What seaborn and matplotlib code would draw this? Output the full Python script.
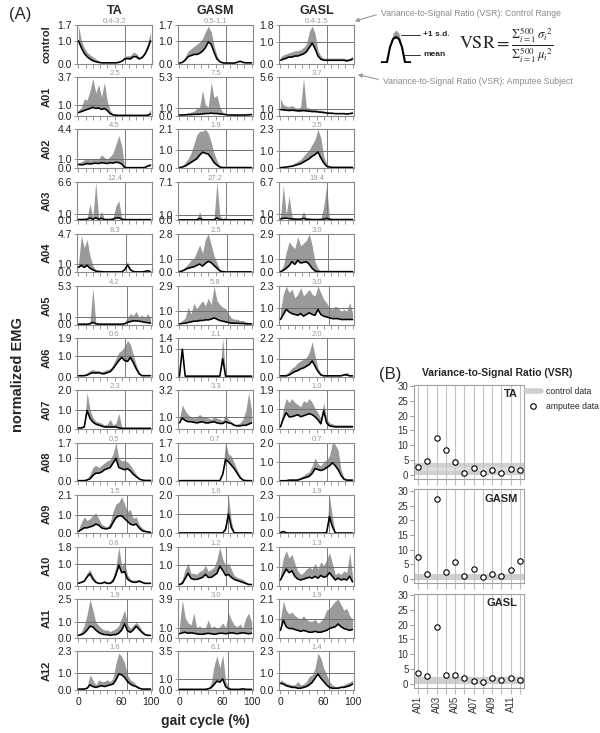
import numpy as np
import matplotlib
matplotlib.use('Agg')
import matplotlib.pyplot as plt
from matplotlib.lines import Line2D
import seaborn as sns

sns.set_style('white')
plt.rcParams['font.family'] = ['Liberation Sans', 'DejaVu Sans']
plt.rcParams['mathtext.fontset'] = 'stix'

# ---------------- data ----------------
subjects = ['control', 'A01', 'A02', 'A03', 'A04', 'A05', 'A06', 'A07', 'A08', 'A09', 'A10', 'A11', 'A12']
muscles = ['TA', 'GASM', 'GASL']
gait = np.arange(0, 101, 4)  # gait cycle (%) sample positions

TA_mean = [
    [1.0,0.7,0.45,0.3,0.2, 0.12,0.08,0.05,0.03,0.03, 0.03,0.03,0.03,0.03,0.05, 0.1,0.2,0.22,0.2,0.3, 0.3,0.2,0.25,0.4,0.65, 1.0],
    [0.3,0.4,0.5,0.6,0.7, 0.8,0.7,0.75,0.6,0.7, 0.5,0.2,0.08,0.05,0.03, 0.03,0.03,0.03,0.03,0.03, 0.03,0.03,0.03,0.03,0.05, 0.15],
    [0.4,0.35,0.4,0.5,0.45, 0.5,0.55,0.5,0.6,0.55, 0.5,0.6,0.55,0.65,0.6, 0.45,0.05,0.03,0.03,0.03, 0.03,0.03,0.03,0.05,0.2, 0.3],
    [0.1,0.1,0.1,0.15,0.35, 0.15,0.4,0.15,0.3,0.1, 0.1,0.1,0.15,0.35,0.4, 0.15,0.1,0.08,0.08,0.08, 0.08,0.08,0.08,0.08,0.08, 0.08],
    [0.6,0.85,0.6,0.85,0.5, 0.3,0.15,0.1,0.08,0.05, 0.05,0.05,0.05,0.05,0.05, 0.05,0.3,0.9,0.3,0.1, 0.05,0.05,0.05,0.1,0.2, 0.05],
    [0.05,0.05,0.05,0.05,0.1, 0.3,0.1,0.05,0.05,0.05, 0.05,0.05,0.05,0.05,0.05, 0.05,0.1,0.3,0.4,0.5, 0.5,0.45,0.4,0.3,0.25, 0.2],
    [0.05,0.05,0.05,0.08,0.15, 0.2,0.18,0.2,0.15,0.15, 0.2,0.25,0.4,0.6,0.8, 0.95,0.8,0.75,0.95,0.7, 0.4,0.15,0.05,0.05,0.05, 0.05],
    [0.05,0.05,0.1,0.95,0.55, 0.35,0.25,0.2,0.15,0.1, 0.1,0.1,0.1,0.1,0.05, 0.03,0.03,0.03,0.03,0.03, 0.03,0.03,0.03,0.03,0.03, 0.03],
    [0.02,0.02,0.02,0.05,0.1, 0.25,0.35,0.35,0.4,0.5, 0.55,0.6,0.8,1.0,0.6, 0.55,0.5,0.55,0.45,0.3, 0.2,0.1,0.05,0.03,0.03, 0.03],
    [0.1,0.2,0.3,0.3,0.35, 0.4,0.5,0.45,0.3,0.25, 0.25,0.3,0.6,0.85,0.95, 0.95,0.8,0.65,0.5,0.45, 0.5,0.3,0.15,0.1,0.08, 0.05],
    [0.1,0.15,0.2,0.4,0.55, 0.3,0.15,0.1,0.1,0.15, 0.1,0.1,0.2,0.5,0.95, 0.6,0.65,0.3,0.2,0.15, 0.15,0.2,0.15,0.1,0.1, 0.1],
    [0.15,0.2,0.3,0.5,0.75, 0.7,0.5,0.35,0.25,0.2, 0.2,0.15,0.2,0.2,0.3, 0.5,0.9,0.45,0.35,0.5, 0.75,0.55,0.35,0.2,0.15, 0.15],
    [0.05,0.05,0.05,0.1,0.3, 0.2,0.15,0.2,0.25,0.2, 0.25,0.3,0.35,0.6,0.95, 0.9,0.75,0.5,0.35,0.25, 0.2,0.1,0.05,0.05,0.05, 0.05],
]
TA_upper = [
    [1.7,1.0,0.7,0.5,0.38, 0.3,0.2,0.12,0.08,0.06, 0.05,0.05,0.05,0.05,0.08, 0.15,0.3,0.35,0.35,0.5, 0.45,0.3,0.35,0.55,0.9, 1.4],
    [0.5,0.8,1.6,1.5,2.4, 3.6,2.2,3.0,1.8,3.2, 1.4,0.5,0.15,0.08,0.05, 0.05,0.05,0.05,0.05,0.05, 0.05,0.05,0.05,0.05,0.1, 0.6],
    [0.6,0.7,0.9,1.1,0.9, 1.0,1.1,1.0,1.5,1.2, 1.0,1.3,1.7,2.7,3.7, 2.5,0.1,0.05,0.05,0.05, 0.05,0.05,0.05,0.1,0.4, 0.5],
    [0.15,0.2,0.2,0.3,2.8, 0.4,6.5,0.4,1.5,0.2, 0.2,0.3,0.4,2.5,3.3, 0.4,0.2,0.1,0.1,0.1, 0.1,0.1,0.1,0.1,0.1, 0.1],
    [1.0,4.5,3.0,4.0,2.0, 0.8,0.3,0.2,0.15,0.1, 0.1,0.1,0.1,0.1,0.1, 0.1,0.5,1.3,0.5,0.15, 0.1,0.1,0.1,0.2,0.35, 0.1],
    [0.1,0.1,0.1,0.15,0.3, 5.0,0.3,0.1,0.1,0.1, 0.1,0.1,0.1,0.1,0.1, 0.1,0.3,0.9,1.5,1.2, 1.8,1.0,1.3,0.9,1.5, 0.8],
    [0.05,0.1,0.1,0.2,0.3, 0.35,0.3,0.3,0.25,0.3, 0.35,0.4,0.6,0.9,1.2, 1.3,1.5,1.8,1.6,1.1, 0.6,0.25,0.08,0.05,0.05, 0.05],
    [0.05,0.1,0.2,1.9,1.0, 0.6,0.4,0.35,0.3,0.2, 0.25,0.5,0.2,0.3,0.8, 0.1,0.05,0.05,0.05,0.05, 0.05,0.05,0.05,0.05,0.05, 0.05],
    [0.05,0.05,0.05,0.1,0.3, 0.6,0.7,0.6,0.7,0.8, 0.9,0.95,1.2,1.7,1.0, 0.9,0.9,0.85,0.7,0.5, 0.3,0.15,0.08,0.05,0.05, 0.05],
    [0.2,0.6,0.9,0.7,0.8, 1.0,1.1,0.8,0.5,0.4, 0.35,0.6,1.2,1.6,1.7, 2.0,1.6,1.2,1.3,0.8, 0.9,0.5,0.3,0.2,0.1, 0.08],
    [0.15,0.2,0.3,0.6,0.75, 0.45,0.25,0.15,0.15,0.25, 0.15,0.2,0.4,0.9,1.8, 0.9,1.1,0.5,0.3,0.25, 0.25,0.3,0.2,0.15,0.15, 0.15],
    [0.2,0.4,0.8,1.5,2.5, 1.8,1.0,0.8,0.6,0.5, 0.5,0.4,0.5,0.6,0.8, 1.3,1.8,0.9,0.6,0.8, 1.0,0.8,0.5,0.3,0.25, 0.2],
    [0.05,0.1,0.1,0.2,0.9, 0.6,0.3,0.6,0.5,0.5, 0.6,0.5,0.7,1.6,2.2, 2.0,1.6,0.9,0.6,0.5, 0.3,0.2,0.1,0.08,0.05, 0.05],
]

GASM_mean = [
    [0.02,0.05,0.15,0.3,0.35, 0.4,0.4,0.45,0.55,0.7, 0.95,0.85,0.5,0.2,0.08, 0.03,0.02,0.02,0.02,0.02, 0.05,0.1,0.05,0.03,0.03, 0.03],
    [0.1,0.1,0.12,0.15,0.15, 0.18,0.2,0.2,0.25,0.3, 0.3,0.35,0.3,0.3,0.25, 0.2,0.15,0.1,0.1,0.1, 0.08,0.08,0.1,0.1,0.12, 0.15],
    [0.02,0.05,0.1,0.2,0.3, 0.4,0.5,0.7,0.85,0.8, 0.75,0.55,0.3,0.15,0.05, 0.02,0.02,0.02,0.02,0.02, 0.02,0.02,0.02,0.02,0.02, 0.02],
    [0.05,0.05,0.05,0.05,0.05, 0.05,0.05,0.3,0.05,0.05, 0.05,0.05,0.05,0.4,0.05, 0.05,0.05,0.05,0.05,0.05, 0.05,0.05,0.05,0.05,0.05, 0.05],
    [0.05,0.1,0.2,0.3,0.35, 0.4,0.5,0.6,0.45,0.65, 0.8,0.7,0.5,0.3,0.1, 0.05,0.03,0.03,0.03,0.03, 0.03,0.03,0.03,0.03,0.03, 0.03],
    [0.05,0.08,0.1,0.15,0.2, 0.25,0.25,0.3,0.3,0.35, 0.35,0.4,0.5,0.4,0.3, 0.25,0.2,0.15,0.1,0.1, 0.1,0.08,0.08,0.05,0.05, 0.05],
    [0.02,1.0,0.02,0.02,0.02, 0.02,0.02,0.02,0.02,0.02, 0.02,0.02,0.02,0.02,0.02, 0.65,0.02,0.02,0.02,0.02, 0.02,0.02,0.02,0.02,0.02, 0.02],
    [0.5,0.9,0.7,0.6,0.6, 0.55,0.5,0.55,0.6,0.5, 0.5,0.55,0.6,0.5,0.45, 0.45,0.6,0.5,0.45,0.3, 0.25,0.25,0.3,0.3,0.4, 0.5],
    [0.02,0.02,0.02,0.02,0.02, 0.02,0.02,0.02,0.02,0.02, 0.02,0.02,0.02,0.02,0.02, 0.3,0.95,0.85,0.7,0.55, 0.35,0.15,0.05,0.02,0.02, 0.02],
    [0.02,0.02,0.02,0.02,0.02, 0.02,0.02,0.02,0.02,0.02, 0.02,0.02,0.02,0.02,0.02, 0.02,0.2,1.0,0.3,0.02, 0.02,0.02,0.02,0.02,0.02, 0.02],
    [0.05,0.1,0.35,0.6,0.35, 0.3,0.3,0.35,0.4,0.55, 0.4,0.4,0.5,0.6,0.95, 0.75,0.5,0.55,0.4,0.3, 0.25,0.2,0.15,0.1,0.05, 0.05],
    [0.4,0.5,0.55,0.45,0.5, 0.45,0.4,0.35,0.35,0.4, 0.45,0.4,0.35,0.4,0.45, 0.45,0.4,0.45,0.5,0.45, 0.4,0.45,0.5,0.45,0.4, 0.45],
    [0.05,0.05,0.05,0.05,0.05, 0.05,0.05,0.05,0.05,0.05, 0.1,0.2,0.5,0.8,0.7, 1.0,0.3,0.1,0.05,0.05, 0.05,0.05,0.1,0.05,0.05, 0.05],
]
GASM_upper = [
    [0.05,0.1,0.3,0.55,0.65, 0.75,0.85,0.95,1.1,1.4, 1.65,1.4,0.8,0.35,0.12, 0.05,0.04,0.04,0.04,0.05, 0.1,0.15,0.08,0.05,0.05, 0.05],
    [0.2,0.3,0.3,0.4,0.5, 0.6,1.0,1.2,3.5,1.5, 1.2,4.6,2.5,2.8,1.2, 0.5,0.3,0.2,0.2,0.2, 0.2,0.2,0.2,0.2,0.25, 0.4],
    [0.05,0.1,0.3,0.5,0.8, 1.3,1.8,2.0,2.0,2.1, 1.9,1.4,0.8,0.4,0.1, 0.05,0.05,0.05,0.05,0.05, 0.05,0.05,0.05,0.05,0.05, 0.05],
    [0.08,0.08,0.08,0.08,0.08, 0.1,0.2,1.5,0.2,0.1, 0.1,0.1,0.3,7.0,0.8, 0.3,0.5,0.1,0.08,0.08, 0.08,0.08,0.08,0.08,0.08, 0.08],
    [0.1,0.2,0.4,0.6,0.9, 1.0,1.5,2.0,1.4,2.4, 2.8,2.0,1.2,0.7,0.2, 0.1,0.05,0.05,0.05,0.05, 0.05,0.05,0.05,0.05,0.05, 0.05],
    [0.1,0.3,0.5,1.3,0.8, 1.6,1.2,1.5,1.8,1.4, 2.0,1.5,2.9,1.8,1.5, 1.3,1.2,0.8,0.5,0.4, 0.4,0.3,0.3,0.2,0.15, 0.1],
    [0.05,1.1,0.05,0.05,0.05, 0.05,0.05,0.05,0.05,0.05, 0.05,0.05,0.05,0.05,0.05, 1.4,0.05,0.05,0.05,0.05, 0.05,0.05,0.05,0.05,0.05, 0.05],
    [0.9,2.0,1.5,1.2,1.0, 0.9,1.0,1.2,1.0,1.0, 0.9,0.8,1.0,0.9,0.8, 0.7,1.2,0.8,0.6,0.4, 0.4,0.5,0.8,1.5,3.0, 1.5],
    [0.04,0.04,0.04,0.04,0.04, 0.04,0.04,0.04,0.04,0.04, 0.04,0.04,0.04,0.04,0.04, 0.5,1.7,1.2,1.1,0.8, 0.5,0.25,0.08,0.04,0.04, 0.04],
    [0.04,0.04,0.04,0.04,0.04, 0.04,0.04,0.04,0.04,0.04, 0.04,0.04,0.04,0.04,0.04, 0.04,0.5,1.9,0.6,0.04, 0.04,0.04,0.04,0.04,0.04, 0.04],
    [0.1,0.3,0.8,1.1,0.6, 0.6,0.55,0.7,0.75,1.0, 0.7,0.8,0.9,1.3,1.9, 1.3,1.0,1.1,0.8,0.5, 0.4,0.35,0.3,0.2,0.1, 0.1],
    [1.2,3.8,2.0,1.5,1.3, 2.5,1.0,1.2,0.9,1.0, 1.8,1.0,1.2,0.9,1.1, 1.5,1.0,2.5,1.8,1.3, 1.1,1.4,1.0,2.0,2.5, 1.6],
    [0.1,0.1,0.1,0.1,0.1, 0.1,0.1,0.1,0.1,0.1, 0.2,0.6,2.2,3.1,2.0, 3.2,0.8,0.3,0.1,0.1, 0.1,0.1,0.2,0.1,0.1, 0.1],
]

GASL_mean = [
    [0.15,0.2,0.25,0.3,0.3, 0.35,0.35,0.4,0.45,0.55, 0.75,0.95,0.7,0.35,0.2, 0.15,0.15,0.15,0.15,0.15, 0.15,0.15,0.15,0.12,0.15, 0.2],
    [0.9,0.85,0.8,0.75,0.8, 0.75,0.7,0.7,0.75,0.7, 0.65,0.6,0.6,0.55,0.5, 0.45,0.4,0.35,0.35,0.3, 0.3,0.3,0.3,0.25,0.3, 0.35],
    [0.02,0.03,0.05,0.08,0.1, 0.15,0.2,0.25,0.35,0.45, 0.55,0.7,0.8,0.95,0.6, 0.3,0.1,0.05,0.03,0.03, 0.03,0.03,0.03,0.03,0.03, 0.03],
    [0.2,0.3,0.35,0.25,0.2, 0.15,0.15,0.15,0.3,0.15, 0.15,0.1,0.1,0.1,0.1, 0.15,0.3,0.15,0.1,0.1, 0.1,0.1,0.1,0.1,0.1, 0.1],
    [0.05,0.15,0.3,0.5,0.8, 0.6,0.9,0.7,0.75,0.8, 0.6,0.3,0.1,0.05,0.05, 0.05,0.05,0.05,0.05,0.05, 0.05,0.05,0.05,0.05,0.05, 0.05],
    [0.3,0.6,0.9,0.75,0.65, 0.6,0.55,0.65,0.5,0.6, 0.7,0.6,0.55,0.9,0.6, 0.5,0.45,0.4,0.35,0.35, 0.35,0.3,0.3,0.3,0.3, 0.3],
    [0.05,0.05,0.05,0.1,0.2, 0.3,0.35,0.45,0.5,0.6, 0.7,0.9,0.6,0.3,0.1, 0.05,0.05,0.05,0.05,0.05, 0.05,0.05,0.1,0.1,0.05, 0.05],
    [0.1,0.5,0.8,0.6,0.6, 0.65,0.7,0.6,0.65,0.7, 0.75,0.7,0.6,0.45,0.25, 0.9,0.3,0.15,0.12,0.1, 0.1,0.1,0.1,0.1,0.1, 0.1],
    [0.02,0.02,0.02,0.05,0.05, 0.05,0.05,0.1,0.15,0.2, 0.25,0.4,0.65,0.6,0.55, 0.6,0.7,0.8,0.95,0.8, 0.6,0.3,0.1,0.05,0.05, 0.05],
    [0.05,0.1,0.03,0.02,0.02, 0.02,0.02,0.02,0.02,0.02, 0.02,0.02,0.02,0.02,0.02, 0.02,0.05,1.0,0.4,0.03, 0.02,0.02,0.02,0.02,0.02, 0.02],
    [0.3,0.6,0.9,0.7,0.8, 0.5,0.35,0.3,0.35,0.4, 0.45,0.4,0.5,0.4,0.55, 0.45,0.5,0.7,0.5,0.3, 0.4,0.3,0.35,0.3,0.5, 0.2],
    [0.4,0.95,0.6,0.5,0.5, 0.45,0.4,0.35,0.4,0.35, 0.3,0.3,0.35,0.3,0.3, 0.35,0.4,0.5,0.55,0.6, 0.75,0.6,0.5,0.45,0.4, 0.45],
    [0.4,0.35,0.25,0.2,0.15, 0.15,0.1,0.1,0.15,0.2, 0.3,0.45,0.7,0.95,0.7, 0.5,0.3,0.15,0.1,0.1, 0.1,0.15,0.15,0.2,0.25, 0.35],
]
GASL_upper = [
    [0.3,0.4,0.45,0.5,0.55, 0.6,0.6,0.65,0.75,0.9, 1.5,1.75,1.4,0.6,0.35, 0.25,0.25,0.25,0.25,0.25, 0.25,0.25,0.25,0.22,0.25, 0.35],
    [2.5,1.6,1.4,1.3,1.5, 1.2,1.1,1.3,5.4,1.2, 1.1,1.0,0.9,0.8,0.8, 0.7,0.6,0.55,0.5,0.45, 0.45,0.4,0.4,0.4,0.45, 0.7],
    [0.03,0.05,0.08,0.12,0.2, 0.3,0.4,0.5,0.7,0.9, 1.1,1.4,1.7,2.3,1.8, 0.7,0.25,0.1,0.05,0.05, 0.05,0.05,0.05,0.05,0.05, 0.05],
    [0.4,6.0,1.0,4.2,0.6, 0.4,0.3,0.3,1.5,0.3, 0.3,0.2,0.2,0.2,0.3, 2.3,6.0,0.4,0.2,0.2, 0.2,0.2,0.2,0.2,0.2, 0.2],
    [0.1,0.5,1.5,2.3,2.0, 1.8,2.7,2.0,2.2,2.4, 2.9,2.0,0.8,0.3,0.1, 0.1,0.1,0.1,0.1,0.1, 0.1,0.1,0.1,0.1,0.1, 0.1],
    [0.8,1.8,2.3,1.9,2.1, 1.6,1.8,2.2,1.7,1.9, 2.1,1.8,1.7,2.3,1.9, 1.5,1.3,1.0,0.9,1.1, 1.0,0.8,0.9,0.8,1.3, 0.7],
    [0.1,0.1,0.15,0.3,0.5, 0.6,0.8,0.9,1.0,1.1, 1.4,2.0,1.2,0.5,0.2, 0.1,0.1,0.1,0.1,0.1, 0.1,0.1,0.2,0.25,0.1, 0.1],
    [0.2,1.0,1.5,1.3,1.5, 1.3,1.2,1.1,1.4,1.3, 1.5,1.3,1.0,0.8,0.5, 1.3,0.5,0.3,0.25,0.2, 0.2,0.2,0.2,0.2,0.2, 0.2],
    [0.04,0.04,0.05,0.1,0.1, 0.1,0.15,0.2,0.3,0.4, 0.5,0.8,1.2,0.9,0.8, 1.0,1.1,1.3,2.0,1.9, 1.6,0.6,0.2,0.1,0.1, 0.1],
    [0.1,0.2,0.06,0.04,0.04, 0.04,0.04,0.04,0.04,0.04, 0.04,0.04,0.04,0.04,0.04, 0.04,0.1,2.2,1.0,0.06, 0.04,0.04,0.04,0.04,0.04, 0.04],
    [0.6,1.5,1.9,1.5,1.7, 1.2,0.8,0.6,0.7,0.9, 1.0,0.9,1.2,0.9,1.3, 1.1,1.4,1.8,1.2,0.6, 0.7,0.6,0.8,0.7,1.8, 0.5],
    [1.0,2.0,1.5,1.3,1.4, 1.2,1.1,1.0,1.2,1.0, 0.9,0.9,1.0,0.8,0.9, 1.1,1.5,1.6,1.8,2.0, 2.1,1.8,1.5,1.6,1.2, 1.0],
    [0.6,0.5,0.4,0.35,0.3, 0.3,0.5,0.3,0.35,0.5, 0.8,0.9,1.3,2.2,1.9, 1.3,0.9,0.5,0.3,0.2, 0.2,0.25,0.3,0.4,0.45, 0.6],
]

TA_ymax = [1.7, 3.7, 4.4, 6.6, 4.7, 5.3, 1.9, 2.0, 1.7, 2.1, 1.8, 2.5, 2.3]
GASM_ymax = [1.7, 5.3, 2.1, 7.1, 2.8, 2.9, 1.4, 3.2, 1.7, 2.0, 1.9, 3.9, 3.5]
GASL_ymax = [1.8, 5.6, 2.3, 6.7, 2.9, 2.3, 2.2, 1.9, 2.0, 2.3, 2.1, 2.1, 2.3]
toe_off = [65, 65, 64, 65, 66, 67, 65, 64, 64, 67, 65, 68, 67]

ctrl_range = ['0.4-3.2', '0.5-1.1', '0.4-1.5']
ctrl_lo = [0.4, 0.5, 0.4]
ctrl_hi = [3.2, 1.1, 1.5]
amputees = subjects[1:]
TA_vsr = [2.5, 4.5, 12.4, 8.3, 4.2, 0.6, 2.3, 0.5, 1.5, 0.6, 1.9, 1.6]
GASM_vsr = [7.5, 1.9, 27.2, 2.5, 5.8, 1.1, 3.3, 0.7, 1.6, 1.2, 3.0, 6.1]
GASL_vsr = [3.7, 2.5, 19.4, 3.0, 3.0, 2.0, 1.0, 0.7, 1.9, 1.3, 1.9, 1.4]

legend_x = [0, 1, 2, 3, 4, 5, 6, 7, 8, 9, 10]
legend_mean = [0, 0, 0, 0.6, 0.92, 1.0, 0.92, 0.6, 0, 0, 0]
legend_upper = [0, 0, 0, 0.6, 1.15, 1.28, 1.15, 0.6, 0, 0, 0]

MEAN = {'TA': TA_mean, 'GASM': GASM_mean, 'GASL': GASL_mean}
UPPER = {'TA': TA_upper, 'GASM': GASM_upper, 'GASL': GASL_upper}
YMAX = {'TA': TA_ymax, 'GASM': GASM_ymax, 'GASL': GASL_ymax}
VSR = {'TA': TA_vsr, 'GASM': GASM_vsr, 'GASL': GASL_vsr}

# ---------------- figure ----------------
W, H = 600, 733
fig = plt.figure(figsize=(W / 100, H / 100), dpi=100)


def ax_px(l, t, w, h):
    return fig.add_axes([l / W, 1 - (t + h) / H, w / W, h / H])


def fx(x):
    return x / W


def fy(y):
    return 1 - y / H


FILL = '#9a9a9a'
SPINE = '#8a8a8a'
col_left = [77, 178, 279]
col_w = 75
row_top0, row_pitch, row_h = 25, 52.2, 38.5

for c, m in enumerate(muscles):
    for r, s in enumerate(subjects):
        ax = ax_px(col_left[c], row_top0 + r * row_pitch, col_w, row_h)
        mean = np.array(MEAN[m][r])
        up = np.array(UPPER[m][r])
        ymax = YMAX[m][r]
        ax.fill_between(gait, mean, up, color=FILL, lw=0, zorder=1)
        ax.axhline(1.0, color='#6e6e6e', lw=0.7, zorder=2)
        ax.axvline(toe_off[r], color='#7a7a7a', lw=0.7, zorder=2)
        sns.lineplot(x=gait, y=mean, ax=ax, color='black', linewidth=1.15, zorder=3)
        ax.set_xlim(-2, 102)
        ax.set_ylim(0, ymax)
        ax.set_xlabel('')
        ax.set_ylabel('')
        ax.set_yticks([0, 1, ymax])
        ax.set_yticklabels(['0.0', '1.0', f'{ymax:.1f}'])
        ax.set_xticks(range(0, 101, 10))
        if r == len(subjects) - 1:
            ax.set_xticklabels(['0', '', '', '', '', '', '60', '', '', '', '100'])
        else:
            ax.set_xticklabels([])
        ax.tick_params(axis='both', which='major', direction='out', length=2.5, width=0.6,
                       color=SPINE, labelsize=7.5, labelcolor='#222222', pad=1,
                       bottom=True, left=True)
        ax.tick_params(axis='x', length=3, pad=2)
        for sp in ax.spines.values():
            sp.set_color(SPINE)
            sp.set_linewidth(0.8)
        lab = ctrl_range[c] if r == 0 else f'{VSR[m][r - 1]:.1f}'
        ax.text(0.5, 1.0, lab, transform=ax.transAxes, ha='center', va='bottom',
                fontsize=5.5, color='#9a9a9a')

# row and column labels
for r, s in enumerate(subjects):
    fig.text(fx(47), fy(row_top0 + r * row_pitch + row_h / 2), s, rotation=90,
             ha='center', va='center', fontsize=8, fontweight='bold')
for c, m in enumerate(muscles):
    fig.text(fx(col_left[c] + col_w / 2), fy(11), m, ha='center', va='center',
             fontsize=9, fontweight='bold')
fig.text(fx(20), fy(15), '(A)', ha='center', va='center', fontsize=12)
fig.text(fx(18), fy(375), 'normalized EMG', rotation=90, ha='center', va='center',
         fontsize=10.5, fontweight='bold')
fig.text(fx(205), fy(721), 'gait cycle (%)', ha='center', va='center',
         fontsize=10, fontweight='bold')

# ---------------- panel B ----------------
posB = np.arange(1, len(amputees) + 1)
b_tops = [384.5, 489, 593.5]
for k, m in enumerate(muscles):
    ax = ax_px(414, b_tops[k], 110, 94)
    ax.axhspan(ctrl_lo[k], ctrl_hi[k], color='#dedede', lw=0, zorder=0)
    ax.axhline(ctrl_lo[k], color='#cfcfcf', lw=3, zorder=0.5)
    ax.axhline(ctrl_hi[k], color='#cfcfcf', lw=3, zorder=0.5)
    for p in posB:
        ax.axvline(p, color='#c2c2c2', lw=0.8, zorder=1)
    sns.scatterplot(x=posB, y=VSR[m], ax=ax, s=15, color='white', edgecolor='black',
                    linewidth=0.8, zorder=3, legend=False)
    ax.set_xlim(0.55, 12.45)
    ax.set_ylim(-1.3, 30.6)
    ax.set_xlabel('')
    ax.set_ylabel('')
    ax.set_yticks(range(0, 31, 5))
    ax.set_xticks(posB)
    if k == 2:
        ax.set_xticklabels([a if i % 2 == 0 else '' for i, a in enumerate(amputees)], rotation=90)
    else:
        ax.set_xticklabels([])
    ax.tick_params(axis='y', direction='out', length=3, width=0.6, color=SPINE,
                   labelsize=7, labelcolor='#333333', pad=1, left=True)
    ax.tick_params(axis='x', direction='out', length=4, width=0.8, color='#bbbbbb',
                   labelsize=7, labelcolor='#333333', pad=2, bottom=True)
    for sp in ax.spines.values():
        sp.set_color('#a0a0a0')
        sp.set_linewidth(0.8)
    ax.text(0.94, 0.95, m, transform=ax.transAxes, ha='right', va='top',
            fontsize=8, fontweight='bold')
    if k == 0:
        handles = [Line2D([0], [0], color='#cfcfcf', lw=4, label='control data'),
                   Line2D([0], [0], marker='o', ls='', mfc='white', mec='black', mew=0.8,
                          ms=4, label='amputee data')]
        fig.legend(handles=handles, loc='upper left', bbox_to_anchor=(fx(524), fy(385)),
                   frameon=False, fontsize=6.2, handlelength=1.8, handletextpad=0.6,
                   labelspacing=0.7, borderaxespad=0, borderpad=0.2)

fig.text(fx(390), fy(375), '(B)', ha='center', va='center', fontsize=12)
fig.text(fx(497), fy(373), 'Variance-to-Signal Ratio (VSR)', ha='center', va='center',
         fontsize=7.5, fontweight='bold')

# ---------------- top-right explanation ----------------
sax = ax_px(381, 29, 30, 34)
sax.fill_between(legend_x, legend_mean, legend_upper, color=FILL, lw=0)
sns.lineplot(x=legend_x, y=legend_mean, ax=sax, color='black', linewidth=1.5)
sax.set_xlim(0, 10)
sax.set_ylim(-0.03, 1.32)
sax.axis('off')

ov = fig.add_axes([0, 0, 1, 1])
ov.set_xlim(0, W)
ov.set_ylim(H, 0)
ov.axis('off')
ov.annotate('', xy=(352, 22), xytext=(379, 14),
            arrowprops=dict(arrowstyle='-|>', color='#999999', lw=0.8, mutation_scale=6))
ov.annotate('', xy=(355, 74), xytext=(381, 80),
            arrowprops=dict(arrowstyle='-|>', color='#999999', lw=0.8, mutation_scale=6))
ov.text(381, 13, 'Variance-to-Signal Ratio (VSR): Control Range', fontsize=6.2,
        color='#8a8a8a', va='center', ha='left')
ov.text(383, 81, 'Variance-to-Signal Ratio (VSR): Amputee Subject', fontsize=6.2,
        color='#8a8a8a', va='center', ha='left')
ov.plot([401, 420], [35, 35], color='#333333', lw=0.7)
ov.plot([404, 420], [55, 55], color='#333333', lw=0.7)
ov.text(423, 35, '+1 s.d.', fontsize=6, fontweight='bold', va='center', ha='left')
ov.text(423, 55, 'mean', fontsize=6, fontweight='bold', va='center', ha='left')
ov.text(506, 46,
        r'$\mathrm{VSR}=\frac{\Sigma_{i=1}^{500}\,{\sigma_i}^{2}}{\Sigma_{i=1}^{500}\,{\mu_i}^{2}}$',
        fontsize=13, ha='center', va='center')

fig.savefig('out.png', dpi=100)
